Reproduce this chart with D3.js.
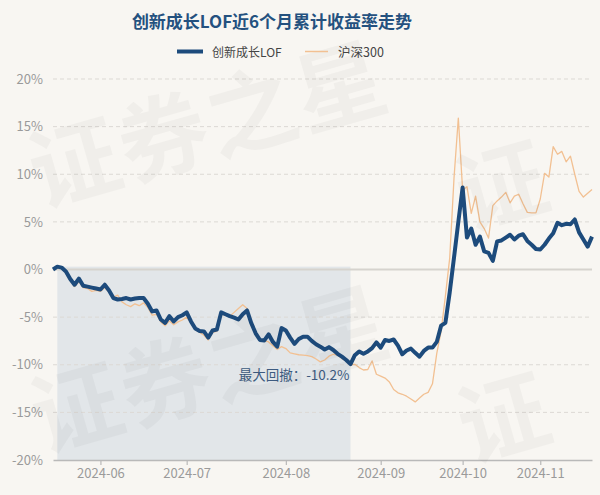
<!DOCTYPE html>
<html><head><meta charset="utf-8">
<script src="https://cdn.jsdelivr.net/npm/d3@7"></script>
<style>body{margin:0;background:#f8f6f2}svg{display:block}</style>
</head><body><svg id="c" width="600" height="495"></svg>
<script>
const dates = [
"2024-05-17","2024-05-20","2024-05-21","2024-05-22","2024-05-23","2024-05-24","2024-05-27","2024-05-28","2024-05-29","2024-05-30","2024-05-31",
"2024-06-03","2024-06-04","2024-06-05","2024-06-06","2024-06-07","2024-06-11","2024-06-12","2024-06-13","2024-06-14","2024-06-17","2024-06-18","2024-06-19","2024-06-20","2024-06-21","2024-06-24","2024-06-25","2024-06-26","2024-06-27","2024-06-28",
"2024-07-01","2024-07-02","2024-07-03","2024-07-04","2024-07-05","2024-07-08","2024-07-09","2024-07-10","2024-07-11","2024-07-12","2024-07-15","2024-07-16","2024-07-17","2024-07-18","2024-07-19","2024-07-22","2024-07-23","2024-07-24","2024-07-25","2024-07-26","2024-07-29","2024-07-30","2024-07-31",
"2024-08-01","2024-08-02","2024-08-05","2024-08-06","2024-08-07","2024-08-08","2024-08-09","2024-08-12","2024-08-13","2024-08-14","2024-08-15","2024-08-16","2024-08-19","2024-08-20","2024-08-21","2024-08-22","2024-08-23","2024-08-26","2024-08-27","2024-08-28","2024-08-29","2024-08-30",
"2024-09-02","2024-09-03","2024-09-04","2024-09-05","2024-09-06","2024-09-09","2024-09-10","2024-09-11","2024-09-12","2024-09-13","2024-09-18","2024-09-19","2024-09-20","2024-09-23","2024-09-24","2024-09-25","2024-09-26","2024-09-27","2024-09-30",
"2024-10-08","2024-10-09","2024-10-10","2024-10-11","2024-10-14","2024-10-15","2024-10-16","2024-10-17","2024-10-18","2024-10-21","2024-10-22","2024-10-23","2024-10-24","2024-10-25","2024-10-28","2024-10-29","2024-10-30","2024-10-31",
"2024-11-01","2024-11-04","2024-11-05","2024-11-06","2024-11-07","2024-11-08","2024-11-11","2024-11-12","2024-11-13","2024-11-14","2024-11-15","2024-11-18","2024-11-19","2024-11-20"
];
const fund = [
0.0,0.3,0.2,-0.2,-1.0,-1.6,-0.95,-1.7,-1.8,-1.9,-2.0,
-2.1,-1.6,-2.2,-3.0,-3.15,-3.1,-3.0,-3.15,-3.05,-3.0,-3.0,-3.6,-4.4,-4.3,-5.25,-5.6,-4.9,-5.45,-5.0,
-4.8,-4.5,-5.45,-6.2,-6.45,-6.5,-7.15,-6.4,-6.3,-4.5,-4.7,-4.9,-5.05,-5.25,-4.7,-4.3,-5.65,-6.7,-7.4,-7.45,-6.8,-7.6,-8.1,
-6.15,-6.4,-7.15,-7.8,-7.3,-7.05,-7.05,-7.5,-7.85,-8.1,-8.4,-8.15,-8.45,-8.85,-9.15,-9.5,-9.93,-9.0,-8.6,-8.85,-8.6,-8.25,
-7.65,-8.2,-7.4,-7.5,-7.35,-8.0,-8.9,-8.5,-8.3,-8.75,-9.15,-8.55,-8.2,-8.2,-7.6,-5.9,-5.6,-2.4,1.25,
5.0,8.6,3.35,4.3,2.6,3.45,1.9,1.75,0.9,2.95,3.05,3.35,3.65,3.15,3.55,3.7,3.0,2.6,
2.15,2.1,2.6,3.25,3.8,4.9,4.65,4.8,4.75,5.25,3.9,3.15,2.4,3.45
];
const hs300 = [
0.0,0.2,0.1,-0.4,-1.2,-1.8,-1.3,-1.9,-2.0,-2.3,-2.2,
-2.3,-1.9,-2.4,-2.9,-2.7,-3.4,-3.7,-3.9,-3.6,-3.8,-3.5,-4.0,-4.8,-4.7,-5.5,-5.9,-5.4,-5.8,-5.5,
-5.3,-5.0,-5.6,-6.3,-6.6,-6.9,-7.4,-6.6,-6.5,-4.7,-4.8,-4.9,-4.5,-4.1,-3.7,-4.1,-5.4,-6.5,-7.35,-7.45,-7.6,-8.0,-8.4,
-8.1,-8.3,-8.75,-8.85,-8.95,-9.0,-9.05,-9.15,-9.4,-9.7,-9.5,-9.1,-8.9,-9.0,-9.35,-9.6,-10.0,-9.95,-10.3,-10.55,-10.5,-9.6,
-11.0,-11.2,-11.4,-11.8,-12.6,-12.95,-13.1,-13.3,-13.6,-13.9,-13.5,-13.1,-12.9,-12.0,-8.8,-6.5,-2.8,1.2,9.6,
15.9,8.3,8.7,5.9,7.7,5.0,4.3,3.3,6.7,7.2,7.6,8.1,7.0,7.7,7.9,6.9,6.0,5.95,
5.95,7.4,10.1,9.7,12.9,12.1,12.4,11.3,11.9,10.0,8.2,7.6,8.0,8.4
];
const yTicks = [-20,-15,-10,-5,0,5,10,15,20];
const tickDates = ["2024-06-03","2024-07-02","2024-08-02","2024-09-03","2024-10-09","2024-11-04"];
const tickLabels = ["2024-06","2024-07","2024-08","2024-09","2024-10","2024-11"];
const seriesNames = ["创新成长LOF","沪深300"];
const titleText = "创新成长LOF近6个月累计收益率走势";
const watermarkText = "证券之星";

(function () {
const FONT = "'Noto Sans CJK SC','Noto Sans',sans-serif";
const svg = d3.select("#c").style("font-family", FONT);
const W = 600, H = 495;
const mLeft = 53, mRight = 592, mTop = 79, mBottom = 460;
const blue = "#1d4b7c", orange = "#f2c092";

svg.append("rect").attr("width", W).attr("height", H).attr("fill", "#f8f6f2");

const x = d3.scalePoint().domain(dates).range([mLeft, mRight]);
const y = d3.scaleLinear().domain([-20, 20]).range([mBottom, mTop]);

// max drawdown
let peakI = 0, bestDD = 0, ddPeak = 0, ddTrough = 0;
fund.forEach((v, i) => {
  if (v > fund[peakI]) peakI = i;
  const dd = (1 + v / 100) / (1 + fund[peakI] / 100) - 1;
  if (dd < bestDD) { bestDD = dd; ddPeak = peakI; ddTrough = i; }
});

svg.append("rect")
  .attr("x", x(dates[ddPeak])).attr("width", x(dates[ddTrough]) - x(dates[ddPeak]))
  .attr("y", y(fund[ddPeak])).attr("height", y(-20) - y(fund[ddPeak]))
  .attr("fill", "#e2e6e9");

// grid
svg.append("g").selectAll("line").data(yTicks.filter(t => t !== 0 && t !== -20)).join("line")
  .attr("x1", mLeft).attr("x2", mRight).attr("y1", d => y(d)).attr("y2", d => y(d))
  .attr("stroke", "#dcd9d4").attr("stroke-width", 1).attr("stroke-dasharray", "4,3");
svg.append("line").attr("x1", mLeft).attr("x2", mRight).attr("y1", y(0)).attr("y2", y(0))
  .attr("stroke", "#d6d3ce").attr("stroke-width", 2);

// y axis labels
const yAxis = d3.axisLeft(y).tickValues(yTicks).tickFormat(d => d + "%").tickSize(0).tickPadding(10);
const gy = svg.append("g").attr("transform", `translate(${mLeft},0)`).call(yAxis);
gy.select(".domain").remove();
gy.selectAll("text").attr("fill", "#9a9a9a").style("font-size", "13px").style("font-family", FONT);

// x axis
const xAxis = d3.axisBottom(x).tickValues(tickDates).tickFormat((d, i) => tickLabels[i]).tickSize(5).tickSizeOuter(0).tickPadding(4);
const gx = svg.append("g").attr("transform", `translate(0,${mBottom})`).call(xAxis);
gx.select(".domain").attr("stroke", "#b9b9b9").attr("stroke-width", 1.5);
gx.selectAll(".tick line").attr("stroke", "#b9b9b9").attr("stroke-width", 1.2);
gx.selectAll("text").attr("fill", "#9a9a9a").style("font-size", "13px").style("font-family", FONT);

// lines
const line = d3.line().x((d, i) => x(dates[i])).y(d => y(d));
svg.append("path").datum(hs300).attr("d", line).attr("fill", "none")
  .attr("stroke", orange).attr("stroke-width", 1.3).attr("stroke-linejoin", "round");
svg.append("path").datum(fund).attr("d", line).attr("fill", "none")
  .attr("stroke", blue).attr("stroke-width", 4).attr("stroke-linejoin", "round");

// annotation
svg.append("text").attr("x", x(dates[ddTrough]) - 1).attr("y", y(fund[ddTrough]) + 10)
  .attr("text-anchor", "end").attr("dominant-baseline", "central")
  .attr("fill", "#3d5b80").style("font-size", "13.5px")
  .text("最大回撤：" + (bestDD * 100).toFixed(1) + "%");

// watermark (tiled; characters whose centre falls outside the frame are skipped)
const wm = svg.append("g").attr("fill", "#000").attr("fill-opacity", 0.03)
  .style("font-size", "90px").style("font-weight", "bold");
const ang = -16 * Math.PI / 180;
const origins = [[73, 157], [500, 180], [75, 402], [502, 412]];
origins.forEach(([ox, oy]) => {
  Array.from(watermarkText).forEach((ch, k) => {
    const cx = ox + Math.cos(ang) * 92 * k, cy = oy + Math.sin(ang) * 92 * k;
    if (cx > W - 20) return;
    wm.append("text").attr("x", cx).attr("y", cy)
      .attr("text-anchor", "middle").attr("dominant-baseline", "central")
      .attr("transform", `rotate(-16,${cx},${cy})`).text(ch);
  });
});

// legend
const lg = svg.append("g");
lg.append("line").attr("x1", 177).attr("x2", 203).attr("y1", 51.5).attr("y2", 51.5)
  .attr("stroke", blue).attr("stroke-width", 4);
lg.append("text").attr("x", 212).attr("y", 51.5).attr("dominant-baseline", "central")
  .attr("fill", "#444").style("font-size", "12px").text(seriesNames[0]);
lg.append("line").attr("x1", 305).attr("x2", 328).attr("y1", 51.5).attr("y2", 51.5)
  .attr("stroke", orange).attr("stroke-width", 1.5);
lg.append("text").attr("x", 338).attr("y", 51.5).attr("dominant-baseline", "central")
  .attr("fill", "#444").style("font-size", "12.5px").text(seriesNames[1]);

// title
svg.append("text").attr("x", 272).attr("y", 20).attr("text-anchor", "middle")
  .attr("dominant-baseline", "central").attr("fill", "#24517f")
  .style("font-size", "17px").style("font-weight", "bold").text(titleText);
})();
</script></body></html>
